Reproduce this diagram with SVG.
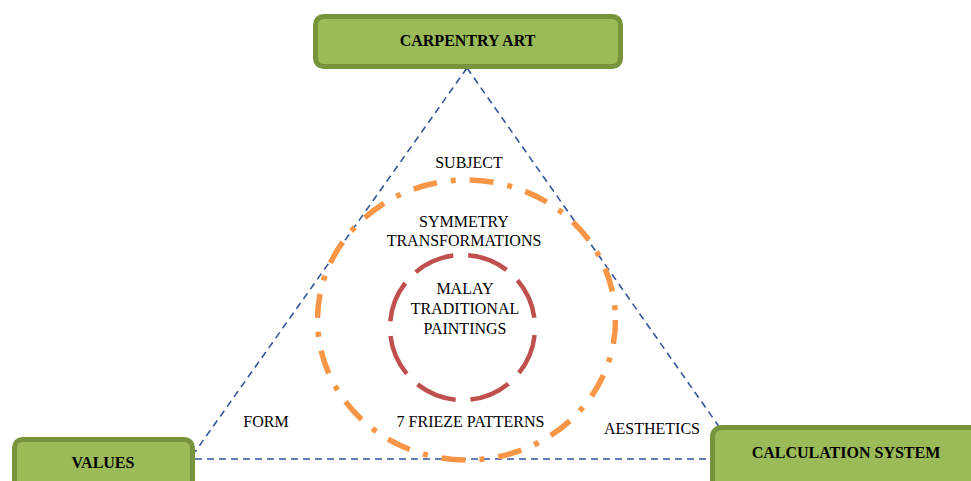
<svg xmlns="http://www.w3.org/2000/svg" width="971" height="481" viewBox="0 0 971 481">
<style>
.box{fill:#9BBB59;stroke:#77933C;stroke-width:5}
.lbl{font-family:"Liberation Serif","Times New Roman",serif;font-size:16px;fill:#000;text-anchor:middle}
.bold{font-weight:bold}
.edge{fill:none;stroke:#34559A;stroke-width:1.6;stroke-dasharray:7 5}
</style>
<rect width="971" height="481" fill="#fff"/>
<g id="connectors">
<line class="edge" x1="467" y1="68" x2="195" y2="452"/>
<line class="edge" x1="467" y1="68" x2="720" y2="428"/>
<line class="edge" x1="195" y1="459" x2="710" y2="459"/>
</g>
<g id="orange-ring">
<ellipse cx="466.5" cy="320" rx="149" ry="140" fill="none" stroke="#F79646" stroke-width="5.5" stroke-dasharray="24 14 5 14"/>
</g>
<g id="red-ring">
<circle cx="462.5" cy="327.5" r="72.5" fill="none" stroke="#C0504D" stroke-width="4.5" stroke-dasharray="41.5 15.05" stroke-dashoffset="49"/>
</g>
<g id="carpentry">
<rect class="box" x="315.5" y="16.5" width="305" height="50" rx="8"/>
<text class="lbl bold" x="467.5" y="46">CARPENTRY ART</text>
</g>
<g id="values">
<rect class="box" x="14.5" y="439.5" width="178" height="60" rx="8"/>
<text class="lbl bold" x="103" y="468">VALUES</text>
</g>
<g id="calculation">
<rect class="box" x="712.5" y="427.5" width="280" height="70" rx="9"/>
<text class="lbl bold" x="846" y="458">CALCULATION SYSTEM</text>
</g>
<g id="texts">
<text class="lbl" x="469" y="168">SUBJECT</text>
<text class="lbl" x="464" y="227">SYMMETRY</text>
<text class="lbl" x="464" y="246">TRANSFORMATIONS</text>
<text class="lbl" x="465" y="294">MALAY</text>
<text class="lbl" x="465" y="314">TRADITIONAL</text>
<text class="lbl" x="465" y="334">PAINTINGS</text>
<text class="lbl" x="266" y="427">FORM</text>
<text class="lbl" x="470.5" y="427">7 FRIEZE PATTERNS</text>
<text class="lbl" x="652" y="434">AESTHETICS</text>
</g>
</svg>
